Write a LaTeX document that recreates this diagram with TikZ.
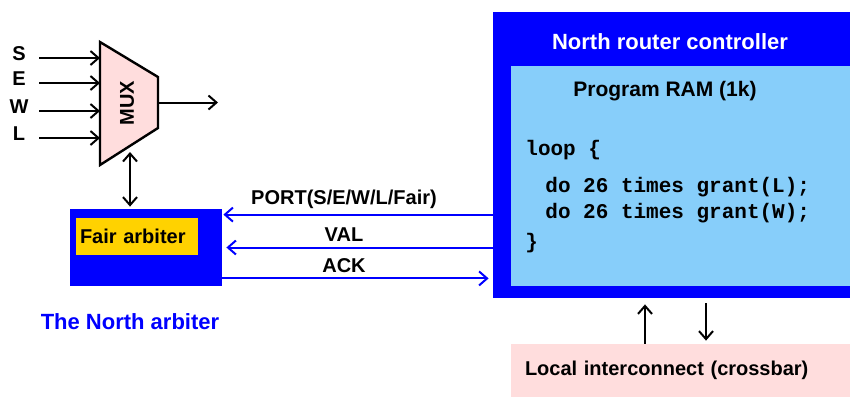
\documentclass[tikz,border=0pt]{standalone}
\usepackage{fontspec}
\setmainfont{Liberation Sans}
\setmonofont{Liberation Mono}
\usetikzlibrary{arrows.meta, positioning}
\definecolor{ctrlblue}{RGB}{0,0,255}
\definecolor{ramblue}{RGB}{135,206,250}
\definecolor{muxpink}{RGB}{255,221,221}
\definecolor{barpink}{RGB}{255,221,221}
\definecolor{fairyellow}{RGB}{255,210,0}

\begin{document}
\begin{tikzpicture}[
        x=0.5pt, y=-0.5pt,
        box/.style={draw=none, inner sep=0pt, font=\fontsize{10}{12}\selectfont\bfseries},
        tip/.style={Straight Barb[length=4pt, width=7pt, line width=1pt]},
        arr/.style={-{Straight Barb[length=4pt, width=7pt]}, line width=1pt},
        barr/.style={arr, ctrlblue},
        lbl/.style={font=\fontsize{10}{12}\selectfont\bfseries, text=black, inner sep=1pt},
        code/.style={font=\fontsize{10.5}{12}\selectfont\ttfamily\bfseries, anchor=west, inner sep=0pt}
    ]
        \useasboundingbox (0,0) rectangle (850,397);

        % Router controller (right)
        \node[box, fill=ctrlblue, minimum width=178.5pt, minimum height=143pt] (ctrl) at (671.5,155) {};
        \node[box, text=white, font=\fontsize{11}{13}\selectfont\bfseries] (ctrltitle) at (670,42) {North router controller};
        \node[box, fill=ramblue, minimum width=169.5pt, minimum height=110pt] (ram) at (680.5,176) {};
        \node[box, font=\fontsize{10.5}{12}\selectfont\bfseries] (ramtitle) at (665,91) {Program RAM (1k)};
        \node[code] (codeLoop) at (525,150) {loop \{};
        \node[code] (codeL) at (545,187) {do 26 times grant(L);};
        \node[code] (codeW) at (545,213) {do 26 times grant(W);};
        \node[code] (codeEnd) at (525,243) {\}};

        % Crossbar (bottom right)
        \node[box, fill=barpink, minimum height=26.5pt, text width=155.5pt, inner xsep=7pt, align=left] (crossbar) at (680.5,370.5) {Local interconnect (crossbar)};
        \draw[arr, shorten >=3pt] ([xshift=-17.75pt]crossbar.north) -- ([xshift=-17.75pt]crossbar.north |- ctrl.south);
        \draw[arr, shorten <=2.5pt, shorten >=1.5pt] ([xshift=12.75pt]crossbar.north |- ctrl.south) -- ([xshift=12.75pt]crossbar.north);

        % North arbiter (left)
        \node[box, fill=ctrlblue, minimum width=76pt, minimum height=38.5pt] (arbiter) at (146,247.5) {};
        \node[box, fill=fairyellow, text width=57pt, inner xsep=2pt, minimum height=18.5pt, align=left] (fair) at (137,236.5) {Fair arbiter};
        \node[box, text=ctrlblue, font=\fontsize{11}{13}\selectfont\bfseries] (arbname) at (130,322) {The North arbiter};

        % Signals between arbiter and controller
        \coordinate (portR) at ([yshift=-3pt]arbiter.north east);
        \coordinate (ackR) at ([yshift=4pt]arbiter.south east);
        \draw[barr, shorten >=0.5pt] (portR -| ctrl.west) -- node[lbl, above=1.5pt, pos=0.55] {PORT(S/E/W/L/Fair)} (portR);
        \draw[barr, shorten >=2pt] (arbiter.east -| ctrl.west) -- node[lbl, above=1.5pt, pos=0.55] {VAL} (arbiter.east);
        \draw[barr, shorten >=2pt] (ackR) -- node[lbl, above=1.5pt, pos=0.45] {ACK} (ackR -| ctrl.west);

        % MUX
        \draw[line width=1.2pt, fill=muxpink] (100,42) coordinate (muxTL) -- (158,77) coordinate (muxTR)
            -- (158,128) coordinate (muxBR) -- (100,165) coordinate (muxBL) -- cycle;
        \node[box, rotate=90] (muxlbl) at (127,103) {MUX};
        \foreach \dir/\y in {S/58, E/83, W/111, L/138} {
            \node[lbl] (in\dir) at (19,\y-4) {\dir};
            \coordinate (src\dir) at (39,\y);
            \draw[arr] (src\dir) -- (src\dir -| muxTL);
        }
        \coordinate (muxOut) at (158,102.5);
        \coordinate (muxEnd) at (218,102.5);
        \draw[arr] (muxOut) -- (muxEnd);
        \coordinate (muxLow) at (130,152);
        \draw[arr, {Straight Barb[length=4pt, width=7pt]}-{Straight Barb[length=4pt, width=7pt]}, shorten >=1pt] (muxLow) -- (muxLow |- arbiter.north);
    \end{tikzpicture}
\end{document}
